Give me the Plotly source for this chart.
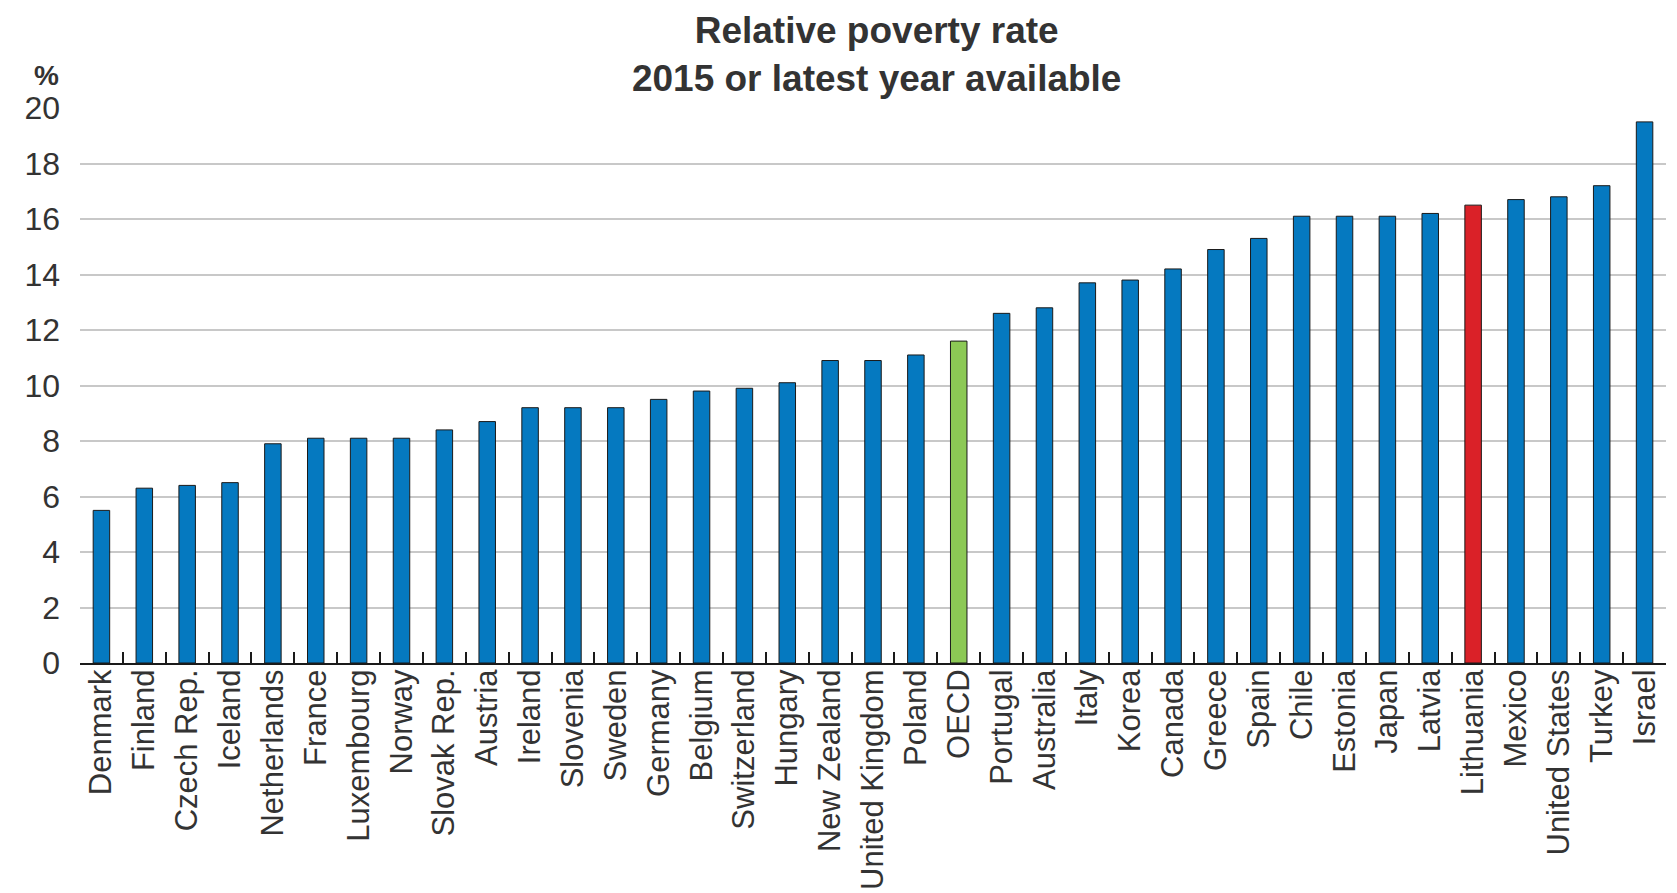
import plotly.graph_objects as go

countries = ["Denmark", "Finland", "Czech Rep.", "Iceland", "Netherlands", "France",
             "Luxembourg", "Norway", "Slovak Rep.", "Austria", "Ireland", "Slovenia",
             "Sweden", "Germany", "Belgium", "Switzerland", "Hungary", "New Zealand",
             "United Kingdom", "Poland", "OECD", "Portugal", "Australia", "Italy",
             "Korea", "Canada", "Greece", "Spain", "Chile", "Estonia", "Japan",
             "Latvia", "Lithuania", "Mexico", "United States", "Turkey", "Israel"]
poverty_rate = [5.5, 6.3, 6.4, 6.5, 7.9, 8.1, 8.1, 8.1, 8.4, 8.7, 9.2, 9.2,
                9.2, 9.5, 9.8, 9.9, 10.1, 10.9, 10.9, 11.1, 11.6, 12.6, 12.8, 13.7,
                13.8, 14.2, 14.9, 15.3, 16.1, 16.1, 16.1, 16.2, 16.5, 16.7, 16.8, 17.2, 19.5]
y_ticks = [0, 2, 4, 6, 8, 10, 12, 14, 16, 18, 20]

BLUE, GREEN, RED = "#0579C0", "#8CC955", "#DA2128"
colors = [GREEN if c == "OECD" else RED if c == "Lithuania" else BLUE for c in countries]

FONT = "Liberation Sans Narrow, Arial Narrow, Liberation Sans, Arial, sans-serif"
TXT = "#333333"

fig = go.Figure(go.Bar(
    x=countries, y=poverty_rate,
    marker=dict(color=colors, line=dict(color="#1a1a1a", width=1)),
))

fig.update_layout(
    width=1677, height=893,
    margin=dict(l=72, r=19, t=100, b=238, autoexpand=False),
    paper_bgcolor="white", plot_bgcolor="white",
    bargap=0.615,
    showlegend=False,
    font=dict(family=FONT, color=TXT),
    title=dict(
        text="<b>Relative poverty rate</b><br><b>2015 or latest year available</b>",
        font=dict(family=FONT, size=37, color=TXT),
        x=0.518, xanchor="center", xref="container",
        y=1 - 35 / 893, yanchor="middle", yref="container",
    ),
    xaxis=dict(
        type="category", automargin=False,
        tickmode="array", tickvals=countries, ticktext=countries,
        tickangle=-90,
        tickfont=dict(family=FONT, size=31, color=TXT),
        ticks="inside", tickson="boundaries", ticklen=11, tickwidth=1.5, tickcolor="#1a1a1a",
        ticklabelstandoff=-8,
        showline=True, linecolor="#1a1a1a", linewidth=2,
        showgrid=False,
    ),
    yaxis=dict(
        range=[0, 20], automargin=False,
        tickmode="array", tickvals=y_ticks,
        tickfont=dict(family=FONT, size=32, color=TXT),
        showgrid=True, gridcolor="#c8c8c8", gridwidth=2,
        zeroline=False, showline=False, ticks="",
        ticklabelstandoff=19,
    ),
    annotations=[dict(
        text="<b>%</b>", xref="paper", yref="paper",
        x=-0.0214, y=(663 - 76) / 554.5, xanchor="center", yanchor="middle",
        showarrow=False, font=dict(family=FONT, size=28, color=TXT),
    )],
)

fig.write_html("out.html")
